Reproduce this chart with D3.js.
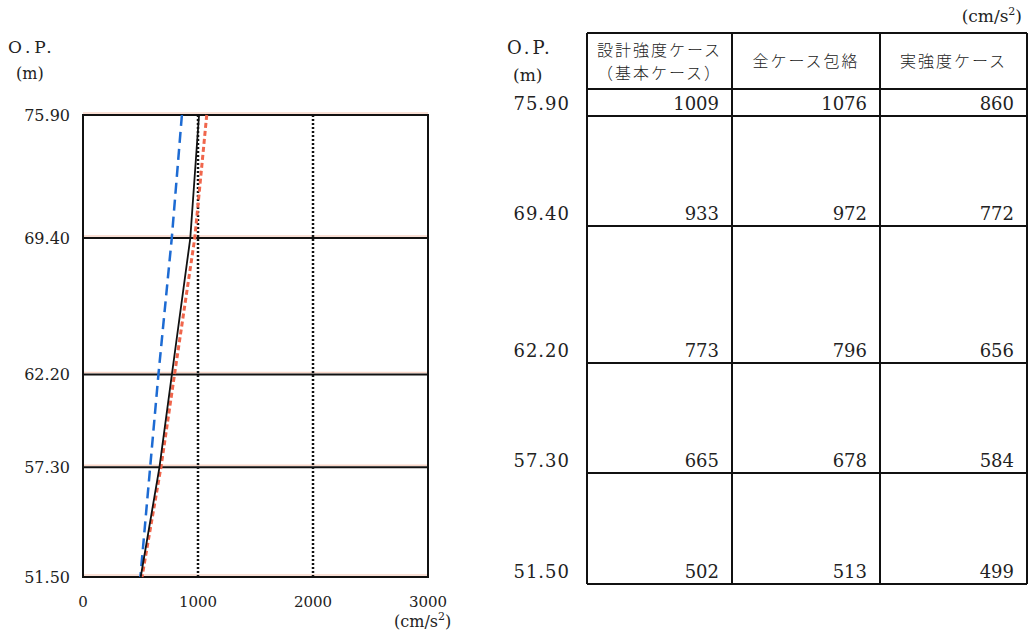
<!DOCTYPE html>
<html>
<head>
<meta charset="utf-8">
<script src="https://cdn.jsdelivr.net/npm/d3@7"></script>
<style>
  body { margin: 0; background: #fff; }
  svg text { font-family: "DejaVu Serif", "Liberation Serif", serif; fill: #222; }
  .jp { font-family: "Noto Sans CJK JP", sans-serif; font-weight: 300; }
</style>
</head>
<body>
<div id="chart"></div>
<script>
// elevations (O.P., m)
var elevations = [75.90, 69.40, 62.20, 57.30, 51.50];
var elevLabels = ["75.90", "69.40", "62.20", "57.30", "51.50"];
// max acceleration (cm/s2)
var designCase = [1009, 933, 773, 665, 502];   // 設計強度ケース（基本ケース）
var envelopeCase = [1076, 972, 796, 678, 513]; // 全ケース包絡
var actualCase = [860, 772, 656, 584, 499];    // 実強度ケース
var xTicks = [0, 1000, 2000, 3000];
var headers = [["設計強度ケース", "（基本ケース）"], ["全ケース包絡"], ["実強度ケース"]];

var svg = d3.select("#chart").append("svg")
  .attr("width", 1030)
  .attr("height", 639);

// ---------- left chart ----------
var margin = { top: 115, left: 83 },
  width = 345,
  height = 462;

var xScale = d3.scaleLinear().domain([0, 3000]).range([0, width]);
var yScale = d3.scaleLinear().domain([51.5, 75.9]).range([height, 0]);

var g = svg.append("g")
  .attr("transform", "translate(" + margin.left + "," + margin.top + ")");

// faint orange scan shadow on horizontal lines
g.selectAll(".shadow")
  .data(elevations)
  .enter().append("line")
  .attr("x1", 0).attr("x2", width)
  .attr("y1", function(d) { return yScale(d) - 2; })
  .attr("y2", function(d) { return yScale(d) - 2; })
  .style("stroke", "#f9d6c8")
  .style("stroke-width", 1.5);

// dotted verticals
g.selectAll(".vgrid")
  .data([1000, 2000])
  .enter().append("line")
  .attr("x1", function(d) { return xScale(d); })
  .attr("x2", function(d) { return xScale(d); })
  .attr("y1", 0).attr("y2", height)
  .style("stroke", "#111")
  .style("stroke-width", 2.5)
  .style("stroke-dasharray", "2,2");

// horizontal level lines
g.selectAll(".hgrid")
  .data(elevations.slice(1, 4))
  .enter().append("line")
  .attr("x1", 0).attr("x2", width)
  .attr("y1", function(d) { return yScale(d); })
  .attr("y2", function(d) { return yScale(d); })
  .style("stroke", "#111")
  .style("stroke-width", 2);

g.append("rect")
  .attr("width", width).attr("height", height)
  .style("fill", "none")
  .style("stroke", "#111")
  .style("stroke-width", 2);

function profile(vals) {
  return d3.line()
    .x(function(d) { return xScale(d); })
    .y(function(d, i) { return yScale(elevations[i]); })(vals);
}

g.append("path")
  .attr("d", profile(envelopeCase))
  .style("fill", "none")
  .style("stroke", "#f0664c")
  .style("stroke-width", 3)
  .style("stroke-dasharray", "5,3");

g.append("path")
  .attr("d", profile(actualCase))
  .style("fill", "none")
  .style("stroke", "#1d6bd3")
  .style("stroke-width", 2.5)
  .style("stroke-dasharray", "11,6");

g.append("path")
  .attr("d", profile(designCase))
  .style("fill", "none")
  .style("stroke", "#111")
  .style("stroke-width", 1.8);

// y labels
g.selectAll(".ylab")
  .data(elevations)
  .enter().append("text")
  .attr("x", -13)
  .attr("y", function(d) { return yScale(d) + 6; })
  .attr("text-anchor", "end")
  .style("font-size", "16px")
  .text(function(d, i) { return elevLabels[i]; });

// x labels
g.selectAll(".xlab")
  .data(xTicks)
  .enter().append("text")
  .attr("x", function(d) { return xScale(d); })
  .attr("y", height + 30)
  .attr("text-anchor", "middle")
  .style("font-size", "15px")
  .text(function(d) { return d; });

svg.append("text").attr("x", 8).attr("y", 53).style("font-size", "17px").style("letter-spacing", "4px").text("O.P.");
svg.append("text").attr("x", 16).attr("y", 79).style("font-size", "16px").text("(m)");

var unitL = svg.append("text").attr("x", 394).attr("y", 627).style("font-size", "16px");
unitL.append("tspan").text("(cm/s");
unitL.append("tspan").attr("dy", -7).style("font-size", "11px").text("2");
unitL.append("tspan").attr("dy", 7).text(")");

// ---------- right table ----------
var colX = [587, 732, 880, 1027];
var rowY = [33, 89, 116, 226, 363, 473, 584];
var t = svg.append("g");

t.selectAll(".vline")
  .data(colX)
  .enter().append("line")
  .attr("x1", function(d) { return d; }).attr("x2", function(d) { return d; })
  .attr("y1", rowY[0]).attr("y2", rowY[rowY.length - 1])
  .style("stroke", "#111").style("stroke-width", 2);

t.selectAll(".hline")
  .data(rowY)
  .enter().append("line")
  .attr("x1", colX[0]).attr("x2", colX[3])
  .attr("y1", function(d) { return d; }).attr("y2", function(d) { return d; })
  .style("stroke", "#111").style("stroke-width", 2);

// headers
headers.forEach(function(h, c) {
  var cx = (colX[c] + colX[c + 1]) / 2;
  h.forEach(function(line, k) {
    var y = h.length === 1 ? 67 : 56 + k * 23;
    t.append("text")
      .attr("class", "jp")
      .attr("x", cx).attr("y", y)
      .attr("text-anchor", "middle")
      .style("font-size", "16px")
      .style("letter-spacing", "2px")
      .text(line);
  });
});

var unitR = svg.append("text").attr("x", 1022).attr("y", 22).attr("text-anchor", "end").style("font-size", "17px");
unitR.append("tspan").text("(cm/s");
unitR.append("tspan").attr("dy", -7).style("font-size", "11px").text("2");
unitR.append("tspan").attr("dy", 7).text(")");

svg.append("text").attr("x", 507).attr("y", 54).style("font-size", "18px").style("letter-spacing", "3px").text("O.P.");
svg.append("text").attr("x", 513).attr("y", 81).style("font-size", "17px").text("(m)");

var series = [designCase, envelopeCase, actualCase];
elevations.forEach(function(e, i) {
  var base = rowY[i + 2] - 6;
  t.append("text")
    .attr("x", 570).attr("y", base)
    .attr("text-anchor", "end")
    .style("font-size", "18px")
    .style("letter-spacing", "1px")
    .text(elevLabels[i]);
  series.forEach(function(s, c) {
    t.append("text")
      .attr("x", colX[c + 1] - 13).attr("y", base)
      .attr("text-anchor", "end")
      .style("font-size", "18px")
      .text(s[i]);
  });
});
</script>
</body>
</html>
